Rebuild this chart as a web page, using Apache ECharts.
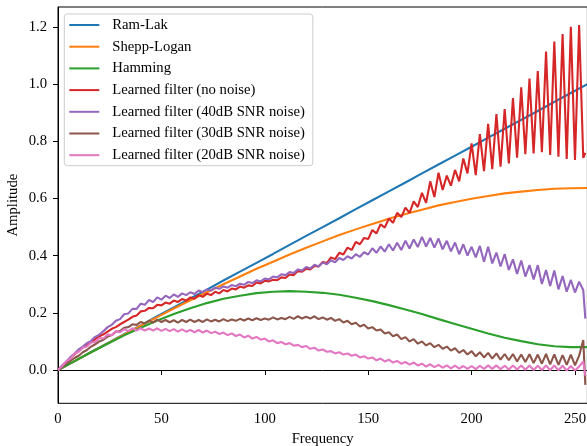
<!DOCTYPE html>
<html>
<head>
<meta charset="utf-8">
<script src="https://cdn.jsdelivr.net/npm/echarts@6/dist/echarts.min.js"></script>
<style>
html,body{margin:0;padding:0;background:#fff;}
#chart{width:587px;height:446px;}
</style>
</head>
<body>
<div id="chart"></div>
<script>
// Smooth reference filters, sampled every 8 frequency units
var freqSmooth = [0,8,16,24,32,40,48,56,64,72,80,88,96,104,112,120,128,136,144,152,160,168,176,184,192,200,208,216,224,232,240,248,256];
var ramLak = [0,0.031,0.063,0.094,0.125,0.156,0.188,0.219,0.25,0.281,0.313,0.344,0.375,0.406,0.438,0.469,0.5,0.531,0.563,0.594,0.625,0.656,0.688,0.719,0.75,0.781,0.813,0.844,0.875,0.906,0.938,0.969,1.0];
var sheppLogan = [0,0.031,0.062,0.093,0.124,0.155,0.185,0.215,0.244,0.272,0.300,0.327,0.354,0.379,0.404,0.428,0.450,0.472,0.492,0.511,0.529,0.546,0.561,0.576,0.588,0.599,0.609,0.618,0.624,0.630,0.634,0.636,0.637];
var hamming = [0,0.031,0.062,0.092,0.121,0.148,0.173,0.196,0.216,0.234,0.249,0.260,0.269,0.274,0.276,0.274,0.270,0.263,0.253,0.241,0.227,0.212,0.196,0.178,0.161,0.144,0.128,0.113,0.101,0.090,0.083,0.080,0.080];

// Learned filters, sampled every 2 frequency units (0..254) plus the last bin 255
var freqFine = [];
for (var f = 0; f <= 254; f += 2) freqFine.push(f);
freqFine.push(255);

var learnedNoNoise = [
0,0.014,0.028,0.042,0.055,0.066,0.079,0.088,0.097,0.108,
0.118,0.125,0.134,0.144,0.150,0.160,0.168,0.176,0.186,0.191,
0.205,0.207,0.217,0.216,0.228,0.226,0.236,0.232,0.243,0.238,
0.248,0.243,0.254,0.249,0.262,0.256,0.267,0.262,0.274,0.268,
0.280,0.275,0.285,0.282,0.292,0.288,0.296,0.294,0.306,0.303,
0.312,0.310,0.316,0.314,0.324,0.322,0.334,0.332,0.346,0.344,
0.354,0.352,0.364,0.362,0.378,0.374,0.394,0.388,0.410,0.404,
0.428,0.420,0.448,0.440,0.462,0.458,0.490,0.478,0.510,0.498,
0.530,0.515,0.550,0.535,0.568,0.550,0.590,0.570,0.620,0.585,
0.660,0.605,0.690,0.630,0.680,0.645,0.700,0.660,0.740,0.688,
0.793,0.682,0.825,0.696,0.861,0.703,0.895,0.711,0.913,0.723,
0.951,0.743,0.989,0.755,1.020,0.758,1.046,0.762,1.114,0.752,
1.149,0.746,1.175,0.738,1.201,0.735,1.207,0.742,
0.760];
var learned40dB = [
0,0.016,0.030,0.045,0.058,0.072,0.082,0.094,0.102,0.116,
0.124,0.136,0.150,0.158,0.172,0.178,0.195,0.198,0.214,0.214,
0.232,0.228,0.245,0.238,0.254,0.246,0.260,0.252,0.264,0.256,
0.268,0.262,0.272,0.266,0.278,0.272,0.282,0.278,0.288,0.284,
0.292,0.288,0.297,0.293,0.302,0.298,0.308,0.304,0.314,0.310,
0.320,0.317,0.327,0.324,0.335,0.332,0.343,0.339,0.352,0.348,
0.360,0.355,0.368,0.362,0.376,0.370,0.384,0.377,0.392,0.385,
0.398,0.390,0.405,0.396,0.412,0.404,0.426,0.410,0.432,0.414,
0.440,0.418,0.445,0.420,0.452,0.425,0.457,0.430,0.466,0.432,
0.462,0.428,0.460,0.422,0.452,0.415,0.446,0.405,0.440,0.400,
0.431,0.394,0.434,0.379,0.431,0.373,0.411,0.362,0.406,0.350,
0.387,0.336,0.383,0.327,0.367,0.317,0.367,0.301,0.350,0.294,
0.348,0.282,0.329,0.274,0.315,0.271,0.309,0.280,
0.180];
var learned30dB = [
0,0.010,0.022,0.032,0.042,0.050,0.062,0.070,0.082,0.090,
0.100,0.106,0.117,0.122,0.134,0.136,0.148,0.150,0.160,0.158,
0.168,0.163,0.172,0.166,0.176,0.168,0.175,0.167,0.174,0.166,
0.175,0.168,0.176,0.168,0.175,0.168,0.177,0.170,0.176,0.170,
0.178,0.171,0.177,0.172,0.179,0.173,0.180,0.174,0.181,0.175,
0.180,0.176,0.184,0.177,0.182,0.178,0.186,0.179,0.188,0.180,
0.186,0.180,0.188,0.178,0.184,0.176,0.182,0.172,0.178,0.166,
0.172,0.160,0.165,0.152,0.158,0.145,0.150,0.138,0.142,0.128,
0.132,0.118,0.124,0.108,0.115,0.100,0.108,0.092,0.100,0.086,
0.094,0.080,0.088,0.074,0.082,0.068,0.076,0.060,0.070,0.054,
0.066,0.048,0.062,0.044,0.060,0.040,0.058,0.036,0.056,0.034,
0.056,0.030,0.054,0.028,0.055,0.024,0.054,0.022,0.056,0.020,
0.055,0.018,0.052,0.018,0.054,0.016,0.050,0.105,
-0.052];
var learned20dB = [
0,0.014,0.030,0.040,0.058,0.064,0.078,0.082,0.096,0.098,
0.112,0.110,0.124,0.122,0.136,0.132,0.143,0.136,0.146,0.138,
0.146,0.138,0.145,0.138,0.146,0.137,0.144,0.136,0.143,0.134,
0.142,0.134,0.140,0.132,0.140,0.131,0.138,0.129,0.134,0.126,
0.131,0.122,0.128,0.119,0.124,0.114,0.120,0.110,0.116,0.106,
0.110,0.100,0.104,0.094,0.098,0.090,0.094,0.085,0.088,0.080,
0.084,0.074,0.078,0.068,0.072,0.064,0.066,0.058,0.062,0.054,
0.058,0.050,0.054,0.044,0.048,0.040,0.044,0.034,0.040,0.030,
0.036,0.026,0.032,0.022,0.028,0.019,0.026,0.016,0.022,0.012,
0.020,0.010,0.018,0.008,0.016,0.006,0.015,0.005,0.014,0.004,
0.014,0.003,0.015,0.004,0.016,0.004,0.016,0.003,0.015,0.002,
0.016,0.002,0.016,0.001,0.016,0.000,0.015,0.000,0.016,-0.001,
0.016,-0.001,0.015,-0.002,0.014,-0.002,0.012,0.030,
-0.020];

var xTicks = [0,50,100,150,200,250];
var yTicks = [0,0.2,0.4,0.6,0.8,1.0,1.2];

var seriesNames = ['Ram-Lak','Shepp-Logan','Hamming','Learned filter (no noise)','Learned filter (40dB SNR noise)','Learned filter (30dB SNR noise)','Learned filter (20dB SNR noise)'];
var colors = ['#1f77b4','#ff7f0e','#2ca02c','#d62728','#9467bd','#8c564b','#e377c2'];

function pairs(xs, ys){ return xs.map(function(x,i){ return [x, ys[i]]; }); }
var seriesData = [
  pairs(freqSmooth, ramLak),
  pairs(freqSmooth, sheppLogan),
  pairs(freqSmooth, hamming),
  pairs(freqFine, learnedNoNoise),
  pairs(freqFine, learned40dB),
  pairs(freqFine, learned30dB),
  pairs(freqFine, learned20dB)
];

var FONT = '"Liberation Serif", "DejaVu Serif", serif';
var FS = 14.7;
var chart = echarts.init(document.getElementById('chart'), null, {renderer:'canvas'});
chart.setOption({
  animation: false,
  backgroundColor: '#fff',
  textStyle: {fontFamily: FONT},
  grid: {left: 58, top: 7, width: 529.4, height: 396.3, outerBoundsMode: 'none', containLabel: false,
    show: true, borderColor: '#000', borderWidth: 1, backgroundColor: 'transparent'},
  legend: {
    orient: 'vertical', left: 64.3, top: 14,
    padding: [3, 8, 2.5, 5],
    itemGap: 5.7, itemWidth: 30, itemHeight: 2,
    icon: 'rect',
    backgroundColor: 'rgba(255,255,255,0.8)',
    borderColor: '#cccccc', borderWidth: 1, borderRadius: 3,
    textStyle: {fontFamily: FONT, fontSize: FS, color: '#000', lineHeight: 16, padding: [0,0,0,8]},
    data: seriesNames
  },
  xAxis: {
    type: 'value', min: 0, max: 256,
    name: 'Frequency', nameLocation: 'middle', nameGap: 28, nameMoveOverlap: false,
    nameTextStyle: {fontFamily: FONT, fontSize: FS, color: '#000'},
    axisLine: {show: true, lineStyle: {color: '#000', width: 1}},
    axisTick: {show: true, length: 5, lineStyle: {color: '#000', width: 1}, customValues: xTicks},
    axisLabel: {fontFamily: FONT, fontSize: FS, color: '#000', margin: 8, customValues: xTicks},
    splitLine: {show: false}
  },
  yAxis: {
    type: 'value', min: -0.1165, max: 1.27,
    name: 'Amplitude', nameLocation: 'middle', nameGap: 37, nameRotate: 90, nameMoveOverlap: false,
    nameTextStyle: {fontFamily: FONT, fontSize: FS, color: '#000'},
    axisLine: {show: true, lineStyle: {color: '#000', width: 1}},
    axisTick: {show: true, length: 5, lineStyle: {color: '#000', width: 1}, customValues: yTicks},
    axisLabel: {fontFamily: FONT, fontSize: FS, color: '#000', margin: 11, customValues: yTicks,
      formatter: function(v){ return v.toFixed(1); }},
    splitLine: {show: false}
  },
  series: seriesNames.map(function(name, i){
    return {
      name: name, type: 'line', data: seriesData[i],
      showSymbol: false, symbol: 'none', smooth: false,
      lineStyle: {color: colors[i], width: 2.1},
      itemStyle: {color: colors[i]},
      z: 2 + i * 0.01
    };
  })
});
</script>
</body>
</html>
